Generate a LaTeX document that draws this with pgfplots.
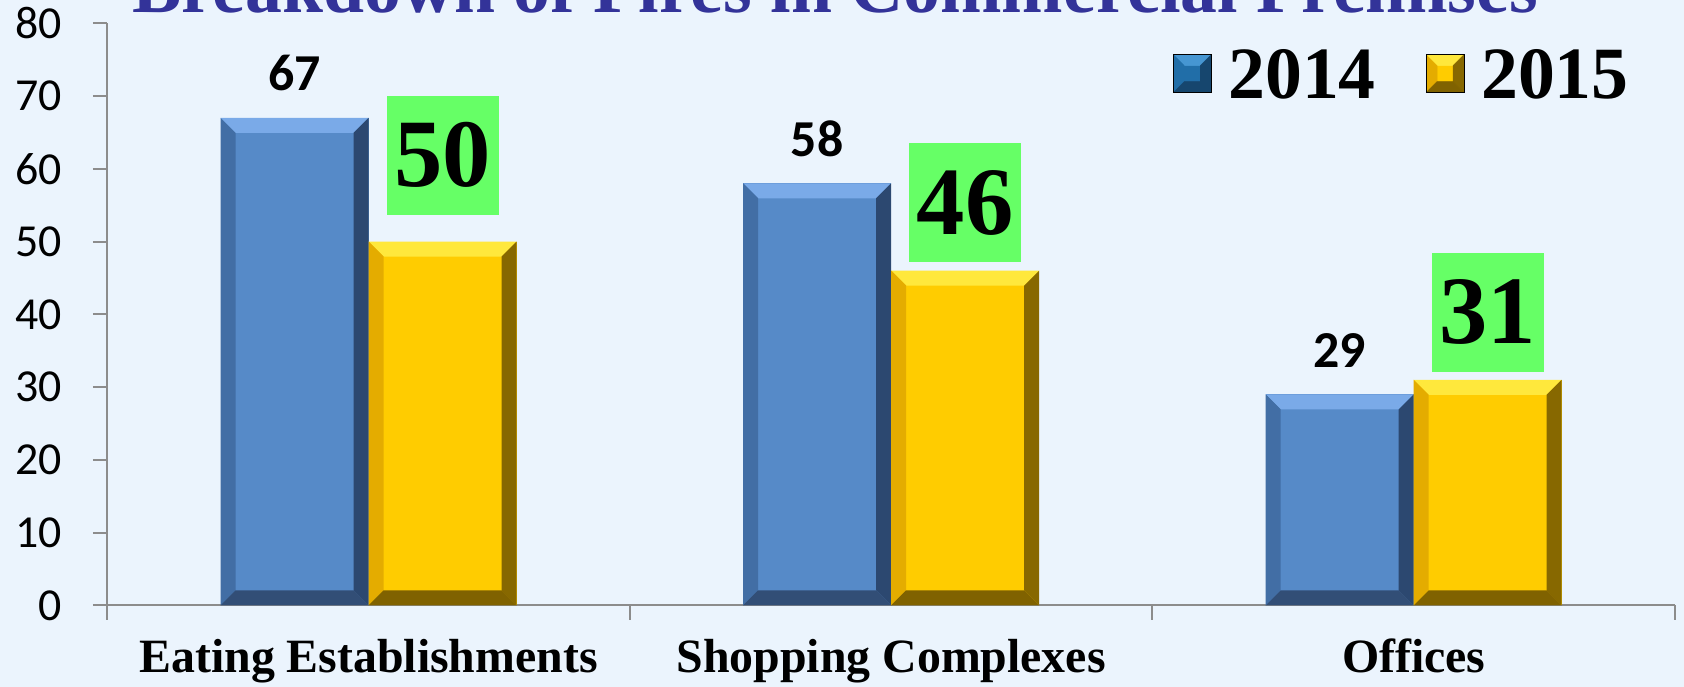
\documentclass[border=0pt]{standalone}
\usepackage{fontspec}
\setmainfont{Liberation Serif}
\newfontfamily\carlito{Carlito}
\usepackage{pgfplots}
\pgfplotsset{compat=1.18}

\definecolor{bgcol}{RGB}{235,244,253}
\definecolor{titleblue}{RGB}{51,51,153}
\definecolor{axgray}{RGB}{140,140,140}
\definecolor{barblue}{RGB}{86,138,200}
\definecolor{blueTop}{RGB}{122,170,232}
\definecolor{blueLeft}{RGB}{66,110,165}
\definecolor{blueRight}{RGB}{44,72,112}
\definecolor{blueBot}{RGB}{50,78,118}
\definecolor{baryellow}{RGB}{255,204,0}
\definecolor{yelTop}{RGB}{255,232,60}
\definecolor{yelLeft}{RGB}{228,172,0}
\definecolor{yelRight}{RGB}{135,104,0}
\definecolor{yelBot}{RGB}{128,98,0}
\definecolor{boxgreen}{RGB}{102,255,102}
\definecolor{legblue}{RGB}{33,110,168}
\definecolor{legblueTop}{RGB}{70,150,210}
\definecolor{legblueDark}{RGB}{22,70,110}

% bevel: top, left, right, bottom colour, bevel size
\tikzset{
  bevel/.style n args={5}{path picture={
    \fill[path picture={}, #1] (path picture bounding box.north west) -- (path picture bounding box.north east)
      -- ([xshift=-#5,yshift=-#5]path picture bounding box.north east)
      -- ([xshift=#5,yshift=-#5]path picture bounding box.north west) -- cycle;
    \fill[path picture={}, #2] (path picture bounding box.north west) -- (path picture bounding box.south west)
      -- ([xshift=#5,yshift=#5]path picture bounding box.south west)
      -- ([xshift=#5,yshift=-#5]path picture bounding box.north west) -- cycle;
    \fill[path picture={}, #3] (path picture bounding box.north east) -- (path picture bounding box.south east)
      -- ([xshift=-#5,yshift=#5]path picture bounding box.south east)
      -- ([xshift=-#5,yshift=-#5]path picture bounding box.north east) -- cycle;
    \fill[path picture={}, #4] (path picture bounding box.south west) -- (path picture bounding box.south east)
      -- ([xshift=-#5,yshift=#5]path picture bounding box.south east)
      -- ([xshift=#5,yshift=#5]path picture bounding box.south west) -- cycle;
  }},
}
\pgfplotsset{
  bluebar/.style={ybar, bar width=148bp, bar shift=-74bp, fill=barblue, draw=none,
    bevel={blueTop}{blueLeft}{blueRight}{blueBot}{15bp}, forget plot},
  yelbar/.style={ybar, bar width=148bp, bar shift=74bp, fill=baryellow, draw=none,
    bevel={yelTop}{yelLeft}{yelRight}{yelBot}{15bp}, forget plot},
}

\begin{document}
\begin{tikzpicture}
\fill[bgcol] (-107.3bp,-81.7bp) rectangle (1576.7bp,605.3bp);
\begin{axis}[
  at={(0,0)}, anchor=south west, scale only axis,
  width=1567.7bp, height=582bp,
  xmin=-0.5, xmax=2.5, ymin=0, ymax=80,
  clip=false,
  axis x line*=bottom, axis y line*=left,
  axis line style={-, draw=axgray, line width=2bp},
  /pgf/number format/assume math mode=true,
  ytick={0,10,...,80},
  xtick={-0.5,0.5,1.5,2.5}, xticklabels={,,,},
  extra x ticks={0,1,2},
  extra x tick labels={Eating Establishments, Shopping Complexes, Offices},
  extra x tick style={major tick length=0pt},
  tick align=outside, major tick length=14.5bp,
  tick style={draw=axgray, line width=2bp},
  yticklabel style={font=\carlito\fontsize{46}{50}\selectfont, anchor=east, inner sep=0pt, xshift=-31bp},
  xticklabel style={font=\bfseries\fontsize{48}{50}\selectfont, anchor=base, inner sep=0pt, yshift=-67.5bp},
  legend style={draw=none, fill=none, inner sep=0pt, outer sep=0pt,
    at={(0.6798,0.868)}, anchor=south west, legend columns=2,
    font=\bfseries\fontsize{74}{80}\selectfont,
    nodes={anchor=base west, inner sep=0pt},
    /tikz/every odd column/.append style={column sep=17bp},
    /tikz/every even column/.append style={column sep=50bp}},
]
% bars, one per plot so each gets its own bevel
\addplot[bluebar] coordinates {(0,67)};
\addplot[bluebar] coordinates {(1,58)};
\addplot[bluebar] coordinates {(2,29)};
\addplot[yelbar] coordinates {(0,50)};
\addplot[yelbar] coordinates {(1,46)};
\addplot[yelbar] coordinates {(2,31)};

% value labels
\addplot[ybar, bar width=148bp, bar shift=-74bp, draw=none, fill=none, forget plot,
  nodes near coords,
  every node near coord/.append style={font=\carlito\bfseries\fontsize{52}{56}\selectfont,
    text=black, anchor=south, inner sep=0pt, xshift=-74bp, yshift=26.5bp}]
  coordinates {(0,67) (1,58) (2,29)};
\addplot[ybar, bar width=148bp, bar shift=74bp, draw=none, fill=none, forget plot,
  visualization depends on={\thisrow{gap} \as \gap},
  nodes near coords,
  every node near coord/.append style={font=\bfseries\fontsize{97}{100}\selectfont,
    text=black, fill=boxgreen, anchor=south, inner sep=0pt,
    minimum width=112bp, minimum height=119bp, xshift=74bp, yshift=\gap bp}]
  table[x=x, y=y, row sep=\\] {x y gap\\ 0 50 26.6\\ 1 46 8\\ 2 31 8\\};

\addlegendimage{legend image code/.code={
  \path[fill=legblue, bevel={legblueTop}{legblue}{legblueDark}{legblueDark}{11bp}] (0bp,6bp) rectangle (38bp,44bp);}}
\addlegendentry{2014}
\addlegendimage{legend image code/.code={
  \path[fill=baryellow, bevel={yelTop}{yelLeft}{yelRight}{yelBot}{11bp}] (0bp,6bp) rectangle (38bp,44bp);}}
\addlegendentry{2015}
\end{axis}
\node[anchor=base, font=\bfseries\fontsize{74}{80}\selectfont, text=titleblue, inner sep=0pt]
  at (727.7bp,592.3bp) {Breakdown of Fires in Commercial Premises};
\pgfresetboundingbox
\path (-107.3bp,-81.7bp) rectangle (1576.7bp,605.3bp);
\end{tikzpicture}
\end{document}
